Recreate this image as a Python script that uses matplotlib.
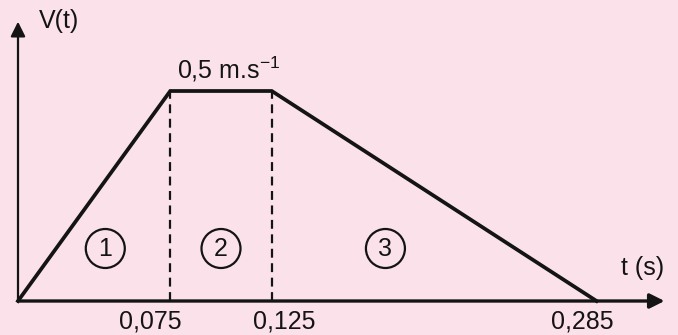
import matplotlib
matplotlib.use("Agg")
from matplotlib import pyplot as plt

# velocity profile
t = [0, 0.075, 0.125, 0.285]
v = [0, 0.5, 0.5, 0]
tick_labels = ["0,075", "0,125", "0,285"]
tick_offsets = [-20, 12, -14]          # label shift in pixels, as in the picture
phases = ["1", "2", "3"]
phase_t = [0.043, 0.100, 0.181]
phase_v = 0.125
v_max_label = "0,5 m.s$^{\\mathregular{-1}}$"

plt.rcParams["font.family"] = ["Liberation Sans", "DejaVu Sans"]
plt.rcParams["mathtext.fontset"] = "custom"
plt.rcParams["mathtext.rm"] = "Liberation Sans"

bg = "#fbe2ea"
ink = "#141414"

fig = plt.figure(figsize=(6.78, 3.35), dpi=100, facecolor=bg)
ax = fig.add_axes([0, 0, 1, 1])
ax.set_facecolor(bg)
ax.set_xlim(-18 / 2030, 660 / 2030)
ax.set_ylim(-34 / 420, 301 / 420)
ax.axis("off")

# axes with arrows
ax.annotate("", xy=(0.3185, 0), xytext=(0, 0),
            arrowprops=dict(arrowstyle="-|>", color=ink, lw=2.4, mutation_scale=22,
                            shrinkA=0, shrinkB=0))
ax.annotate("", xy=(0, 0.665), xytext=(0, 0),
            arrowprops=dict(arrowstyle="-|>", color=ink, lw=1.6, mutation_scale=22,
                            shrinkA=0, shrinkB=0))

# profile
ax.plot(t, v, color=ink, lw=2.7, solid_joinstyle="miter", zorder=3)
for ti in t[1:3]:
    ax.plot([ti, ti], [0, v[1]], color=ink, lw=1.6, ls=(0, (4, 2.5)), zorder=2)

# tick labels
for ti, lab, off in zip(t[1:], tick_labels, tick_offsets):
    ax.annotate(lab, xy=(ti, 0), xytext=(off, -21), textcoords="offset pixels",
                ha="center", va="center", fontsize=18, color=ink)

ax.text(0.3075, 0.078, "t (s)", ha="center", va="center", fontsize=18, color=ink)
ax.annotate("V(t)", xy=(0, 0.665), xytext=(41, 1), textcoords="offset pixels",
            ha="center", va="center", fontsize=18, color=ink)
ax.annotate(v_max_label, xy=((t[1] + t[2]) / 2, v[1]), xytext=(8, 22),
            textcoords="offset pixels", ha="center", va="center", fontsize=18, color=ink)

# circled phase numbers
for x, p in zip(phase_t, phases):
    ax.text(x, phase_v, p, ha="center", va="center", fontsize=18, color=ink,
            bbox=dict(boxstyle="circle,pad=0.3", fc="none", ec=ink, lw=1.6))

fig.savefig("out.png", dpi=100, facecolor=bg)
